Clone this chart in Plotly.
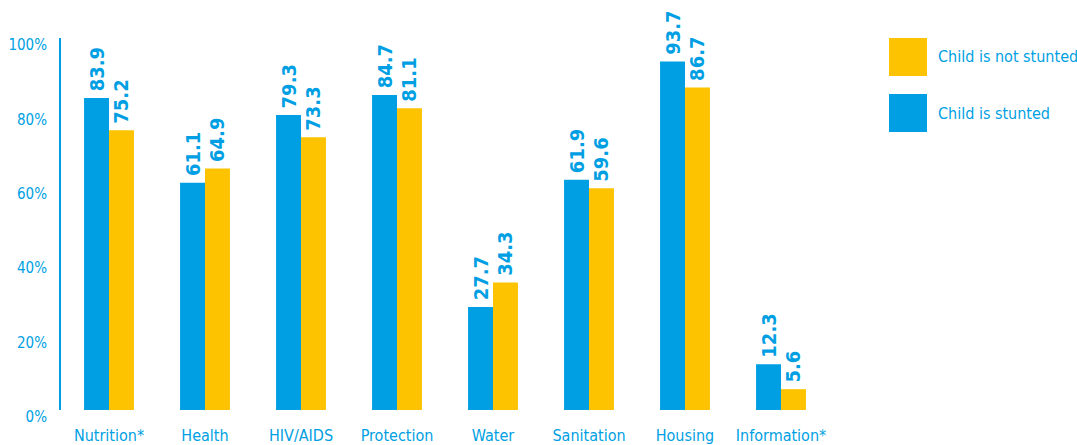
import plotly.graph_objects as go

# Share of households deprived, by dimension and stunting status (%)
categories = ["Nutrition*", "Health", "HIV/AIDS", "Protection", "Water",
              "Sanitation", "Housing", "Information*"]
stunted = [83.9, 61.1, 79.3, 84.7, 27.7, 61.9, 93.7, 12.3]
not_stunted = [75.2, 64.9, 73.3, 81.1, 34.3, 59.6, 86.7, 5.6]
series_names = ["Child is stunted", "Child is not stunted"]
y_ticks = [0, 20, 40, 60, 80, 100]
y_tick_labels = ["0%", "20%", "40%", "60%", "80%", "100%"]

BLUE = "#009FE3"
YELLOW = "#FDC300"
FONT = "DejaVu Sans Condensed, Liberation Sans Narrow, sans-serif"

W, H = 1077, 445
M_L, M_R, M_T, M_B = 61, 248, 38, 35
plot_w = W - M_L - M_R
plot_h = H - M_T - M_B


def px_x(px):
    return (px - M_L) / plot_w


def px_y(py):
    return (H - M_B - py) / plot_h


fig = go.Figure()
for name, vals, col in [(series_names[0], stunted, BLUE),
                        (series_names[1], not_stunted, YELLOW)]:
    fig.add_trace(go.Bar(
        x=categories, y=vals, name=name, marker_color=col,
        marker_line_width=0,
        texttemplate="\u2009%{y:.1f}", textposition="outside", textangle=-90,
        textfont=dict(family=FONT, size=20, color=BLUE, weight="bold"),
        constraintext="none", cliponaxis=False, showlegend=False,
    ))

# Legend drawn as large swatches with labels on the right
legend_items = [(series_names[1], YELLOW, 38), (series_names[0], BLUE, 94)]
for name, col, top in legend_items:
    fig.add_shape(type="rect", xref="paper", yref="paper",
                  x0=px_x(889), x1=px_x(927), y0=px_y(top + 38), y1=px_y(top),
                  fillcolor=col, line_width=0)
    fig.add_annotation(xref="paper", yref="paper", x=px_x(936),
                       y=px_y(top + 19), text=name, showarrow=False,
                       xanchor="left", yanchor="middle",
                       font=dict(family=FONT, size=16, color=BLUE))

fig.update_layout(
    width=W, height=H,
    margin=dict(l=M_L, r=M_R, t=M_T, b=M_B),
    paper_bgcolor="white", plot_bgcolor="white",
    barmode="group", bargap=0.48, bargroupgap=0,
    xaxis=dict(showgrid=False, zeroline=False, showline=False, ticks="",
               automargin=False,
               tickfont=dict(family=FONT, size=16, color=BLUE),
               ticklabelstandoff=14),
    yaxis=dict(range=[0, 100], tickvals=y_ticks, ticktext=y_tick_labels,
               showgrid=False, zeroline=False, showline=True, automargin=False,
               linecolor=BLUE, linewidth=2, ticks="",
               tickfont=dict(family=FONT, size=15, color=BLUE),
               ticklabelstandoff=9, ticklabelshift=7),
)

fig.write_html("out.html")
